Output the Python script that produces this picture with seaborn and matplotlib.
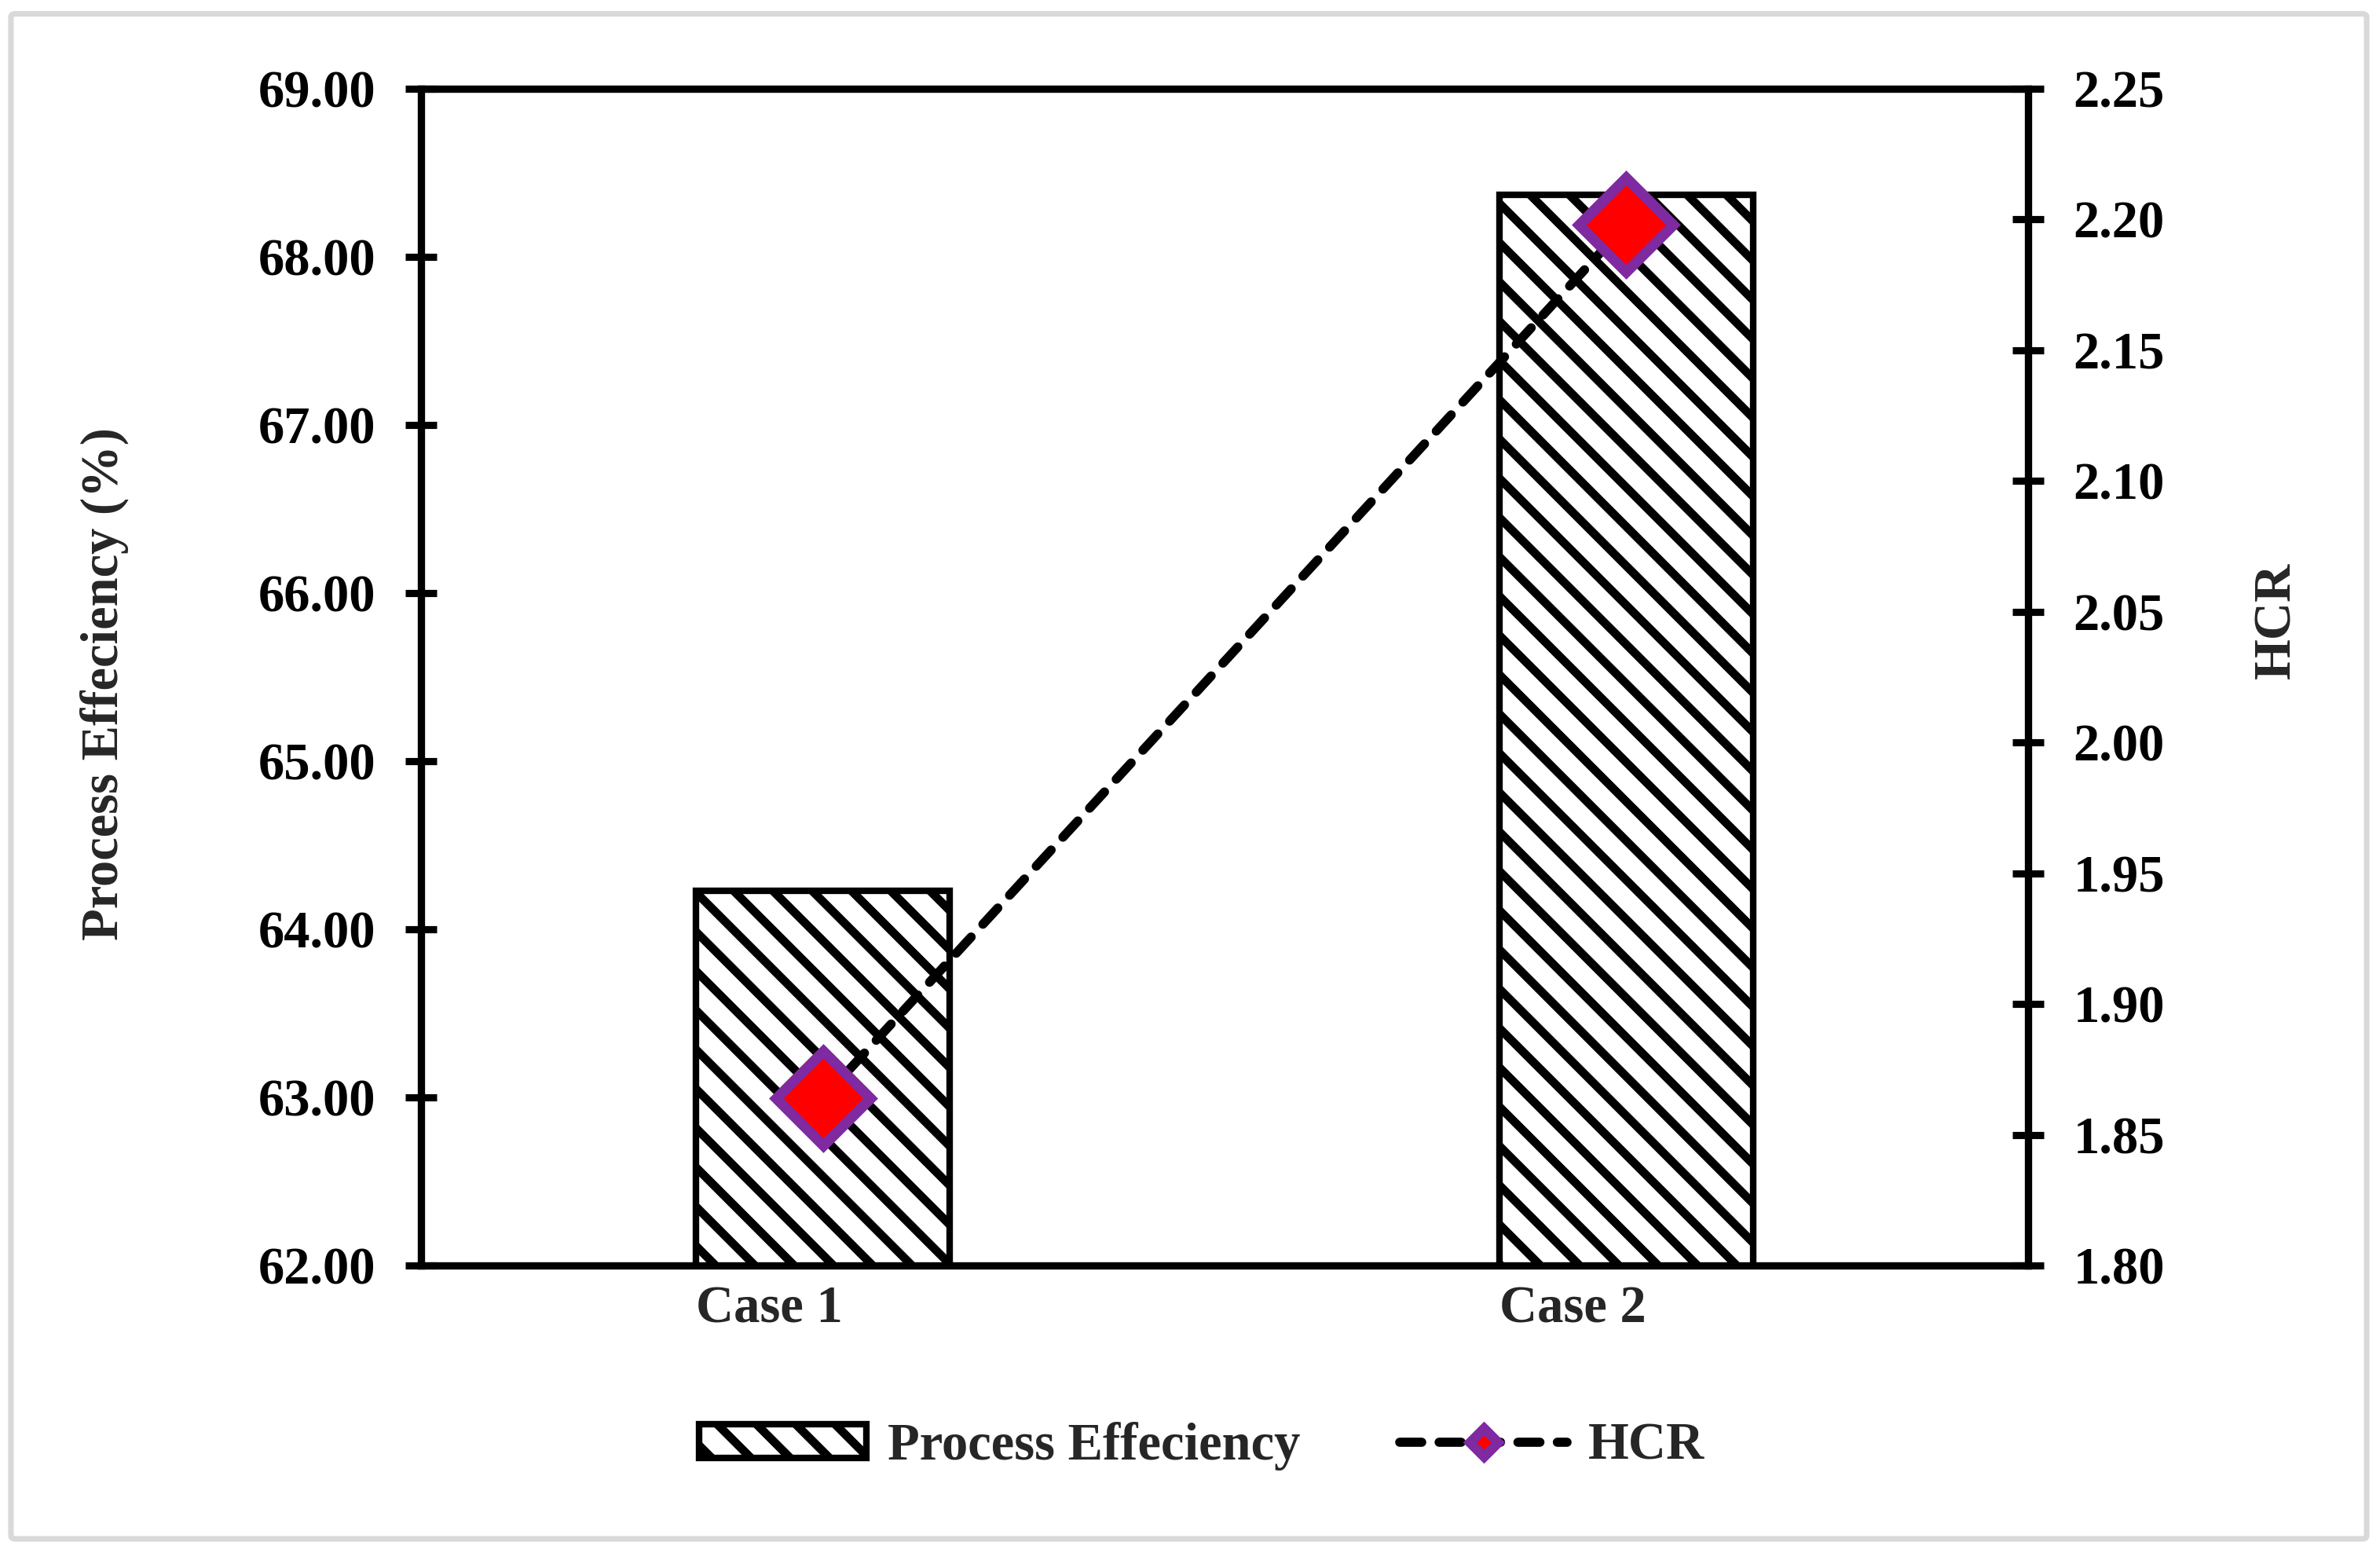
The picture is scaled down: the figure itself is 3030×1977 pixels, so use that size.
import numpy as np
import pandas as pd
import matplotlib
matplotlib.use("Agg")
import matplotlib.pyplot as plt
import matplotlib.transforms as mtransforms
from matplotlib.patches import Patch, FancyBboxPatch
from matplotlib.lines import Line2D
import seaborn as sns

# ---- data ----
cases = ["Case 1", "Case 2"]
efficiency = [64.23, 68.37]
hcr = [1.864, 2.198]
left_ticks = [62, 63, 64, 65, 66, 67, 68, 69]
right_ticks = [1.80, 1.85, 1.90, 1.95, 2.00, 2.05, 2.10, 2.15, 2.20, 2.25]

sns.set_style("white")
plt.rcParams["font.family"] = ["Liberation Serif", "DejaVu Serif"]
plt.rcParams["font.weight"] = "bold"
plt.rcParams["axes.labelweight"] = "bold"
plt.rcParams["font.size"] = 16
plt.rcParams["hatch.linewidth"] = 2.6
plt.rcParams["hatch.color"] = "black"

HATCH = "\\\\"
LINE_W = 2.8
DASHES = (2.4, 1.9)

DPI = 300
fig = plt.figure(figsize=(3030 / DPI, 1977 / DPI), dpi=DPI)
ax = fig.add_axes([0.177, 0.185, 0.675, 0.758])

df = pd.DataFrame({"case": cases, "eff": efficiency, "hcr": hcr})
sns.barplot(data=df, x="case", y="eff", ax=ax, width=0.316, color="white",
            saturation=1, edgecolor="black", linewidth=2.0, hatch=HATCH)
for p in ax.patches:
    p.set_facecolor("white")
    p.set_edgecolor("black")
    p.set_hatch(HATCH)
    p.set_linewidth(2.0)

ax.set_ylim(62, 69)
ax.set_yticks(left_ticks)
ax.set_yticklabels([f"{v:.2f}" for v in left_ticks])
ax.set_xlim(-0.5, 1.5)
ax.set_xlabel("")
ax.set_ylabel("Process Effeciency (%)", fontsize=16, fontweight="bold")
ax.yaxis.set_label_coords(-0.182, 0.494)

ax2 = ax.twinx()
sns.lineplot(data=df, x="case", y="hcr", ax=ax2, color="black", linewidth=LINE_W,
             marker="D", markersize=20.5, markerfacecolor="red",
             markeredgecolor="#7F2AA0", markeredgewidth=3.2, sort=False)
for ln in ax2.lines:
    ln.set_dashes(DASHES)
    ln.set_dash_capstyle("round")
ax2.set_ylim(1.80, 2.25)
ax2.set_yticks(right_ticks)
ax2.set_yticklabels([f"{v:.2f}" for v in right_ticks])
ax2.set_ylabel("HCR", fontsize=16, fontweight="bold", rotation=90)
ax2.yaxis.set_label_coords(1.140, 0.548)
ax2.set_xlabel("")

for a in (ax, ax2):
    for s in a.spines.values():
        s.set_visible(True)
        s.set_color("black")
        s.set_linewidth(2.2)
    a.tick_params(axis="y", direction="inout", length=9.8, width=2.2, pad=9,
                  labelsize=16, colors="black")
    a.tick_params(axis="x", length=0, pad=6, labelsize=16)
    for lab in a.get_yticklabels():
        lab.set_fontweight("bold")

ax.tick_params(axis="y", left=True, right=False)
ax2.tick_params(axis="y", left=False, right=True)

# x tick labels shifted slightly left
offset = mtransforms.ScaledTranslation(-16.3 / 72, 0, fig.dpi_scale_trans)
for lab in ax.get_xticklabels():
    lab.set_fontweight("bold")
    lab.set_transform(lab.get_transform() + offset)

# legend
h1 = Patch(facecolor="white", edgecolor="black", hatch=HATCH, linewidth=2.0)
h2 = Line2D([0], [0], color="black", linewidth=LINE_W, dashes=DASHES,
            dash_capstyle="round", marker="D", markersize=6,
            markerfacecolor="red", markeredgecolor="#7F2AA0", markeredgewidth=3)
fig.legend([h1, h2], ["Process Effeciency", "HCR"], loc="center",
           bbox_to_anchor=(0.505, 0.0688), ncol=2, frameon=False,
           prop={"size": 16, "weight": "bold"}, handlelength=3.2,
           handleheight=0.6, handletextpad=0.4, columnspacing=1.9)

# figure border
border = FancyBboxPatch((0.0046, 0.0091), 0.9898, 0.982,
                        boxstyle="round,pad=0,rounding_size=0.002",
                        transform=fig.transFigure, facecolor="none",
                        edgecolor="#D9D9D9", linewidth=1.7, zorder=-1)
fig.patches.append(border)

fig.savefig("out.png", dpi=DPI)
